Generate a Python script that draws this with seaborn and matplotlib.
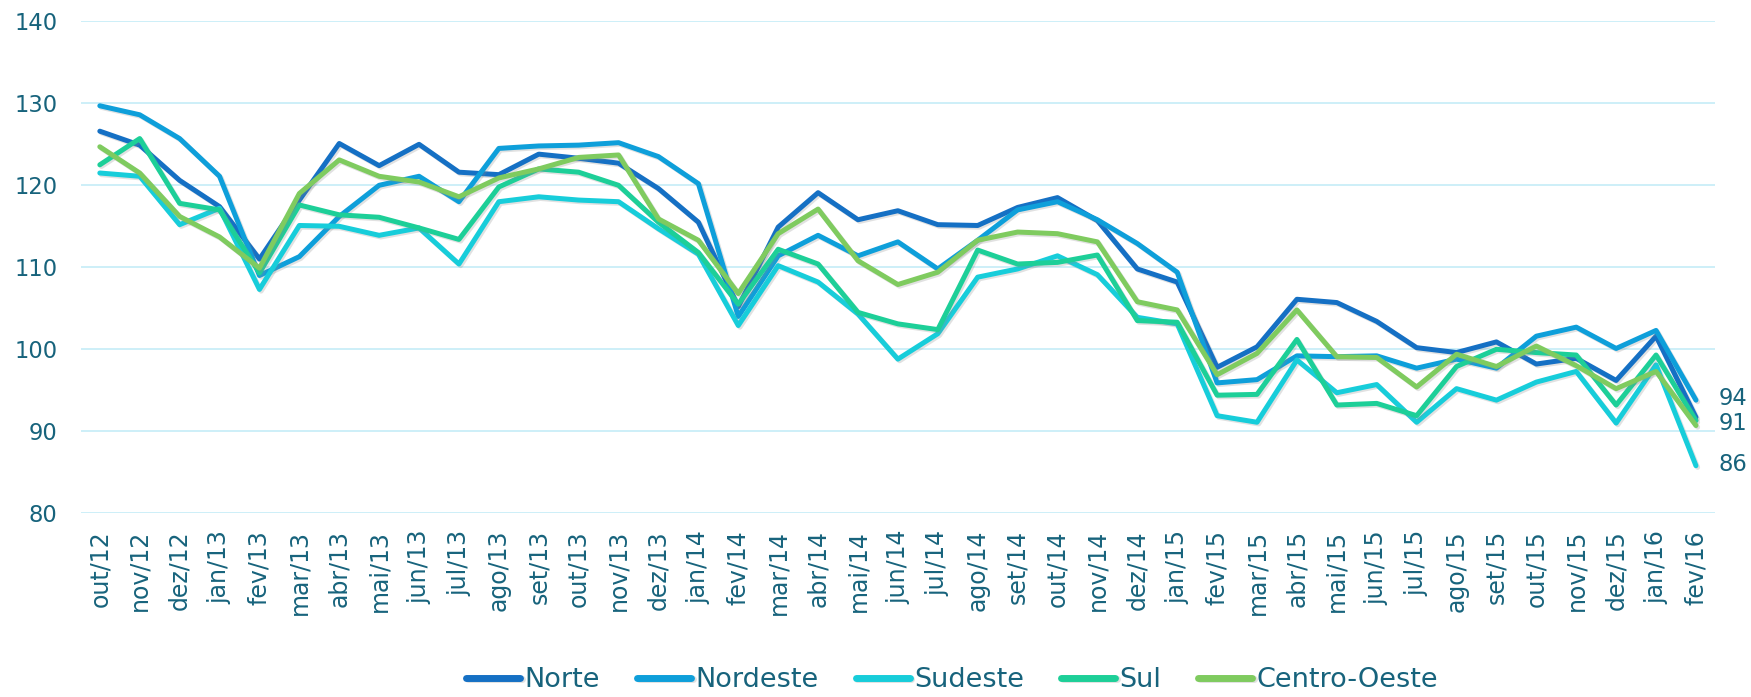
import pandas as pd
import numpy as np
import matplotlib
matplotlib.use("Agg")
import matplotlib.pyplot as plt
import matplotlib.patheffects as pe
import seaborn as sns

# meses (out/12 a fev/16)
meses = ["out/12", "nov/12", "dez/12", "jan/13", "fev/13", "mar/13", "abr/13", "mai/13", "jun/13",
         "jul/13", "ago/13", "set/13", "out/13", "nov/13", "dez/13", "jan/14", "fev/14", "mar/14",
         "abr/14", "mai/14", "jun/14", "jul/14", "ago/14", "set/14", "out/14", "nov/14", "dez/14",
         "jan/15", "fev/15", "mar/15", "abr/15", "mai/15", "jun/15", "jul/15", "ago/15", "set/15",
         "out/15", "nov/15", "dez/15", "jan/16", "fev/16"]

norte = [126.6, 124.9, 120.6, 117.4, 111.0, 118.2, 125.1, 122.4, 125.0, 121.6, 121.3, 123.8, 123.3,
         122.7, 119.6, 115.5, 105.2, 114.9, 119.1, 115.8, 116.9, 115.2, 115.1, 117.3, 118.5, 115.7,
         109.8, 108.2, 97.8, 100.3, 106.1, 105.7, 103.4, 100.2, 99.6, 100.9, 98.2, 98.9, 96.2, 101.6, 91.7]
nordeste = [129.7, 128.6, 125.7, 121.1, 109.0, 111.3, 116.2, 120.0, 121.1, 118.0, 124.5, 124.8, 124.9,
            125.2, 123.5, 120.2, 104.0, 111.4, 113.9, 111.4, 113.1, 109.8, 113.3, 117.0, 118.0, 115.8,
            112.9, 109.4, 95.9, 96.3, 99.2, 99.1, 99.2, 97.7, 98.8, 97.7, 101.6, 102.7, 100.1, 102.3, 93.8]
sudeste = [121.5, 121.1, 115.2, 117.2, 107.3, 115.1, 115.0, 113.9, 114.8, 110.4, 118.0, 118.6, 118.2,
           118.0, 114.7, 111.6, 102.9, 110.2, 108.2, 104.3, 98.8, 101.9, 108.8, 109.8, 111.4, 109.1,
           103.9, 103.1, 91.9, 91.1, 98.7, 94.7, 95.7, 91.1, 95.2, 93.8, 96.0, 97.3, 91.0, 98.1, 85.8]
sul = [122.5, 125.7, 117.8, 117.0, 109.3, 117.6, 116.4, 116.1, 114.8, 113.4, 119.8, 122.0, 121.6,
       120.0, 115.5, 111.8, 105.5, 112.2, 110.4, 104.5, 103.1, 102.4, 112.1, 110.4, 110.6, 111.5,
       103.5, 103.3, 94.4, 94.5, 101.2, 93.2, 93.4, 91.9, 97.9, 100.0, 99.6, 99.3, 93.2, 99.3, 91.3]
centro_oeste = [124.7, 121.5, 116.2, 113.7, 109.9, 119.0, 123.1, 121.1, 120.4, 118.6, 120.9, 122.0, 123.4,
                123.7, 115.9, 113.3, 106.8, 114.1, 117.1, 110.8, 107.9, 109.4, 113.3, 114.3, 114.1, 113.1,
                105.8, 104.8, 96.9, 99.5, 104.8, 99.1, 99.0, 95.4, 99.4, 97.9, 100.4, 98.0, 95.2, 97.3, 90.7]

regioes = ["Norte", "Nordeste", "Sudeste", "Sul", "Centro-Oeste"]
cores = ["#1570C4", "#0E9FDA", "#17CDDA", "#1DCF98", "#7FCB5F"]
rotulos_finais = [94, 91, 86]

texto = "#17637C"
grade = "#CDEFF8"

df = pd.DataFrame({"mes": meses, "Norte": norte, "Nordeste": nordeste, "Sudeste": sudeste,
                   "Sul": sul, "Centro-Oeste": centro_oeste})
df["pos"] = range(len(meses))
df_long = df.melt(id_vars=["mes", "pos"], value_vars=regioes, var_name="regiao", value_name="valor")

sns.set_style("white")
plt.rcParams["font.family"] = ["DejaVu Sans"]

fig = plt.figure(figsize=(17.51, 6.97), dpi=100)
ax = fig.add_axes([0.0463, 0.2636, 0.9332, 0.7058])

sombra = [pe.SimpleLineShadow(offset=(1.2, -1.2), shadow_color="#888888", alpha=0.25), pe.Normal()]
sns.lineplot(data=df_long, x="pos", y="valor", hue="regiao", hue_order=regioes,
             palette=cores, linewidth=3.6, sort=False, ax=ax, legend=True)
for linha in ax.get_lines():
    linha.set_path_effects(sombra)
    linha.set_solid_joinstyle("round")

ax.set_ylim(80, 140)
ax.set_yticks(range(80, 141, 10))
ax.set_xlim(-0.47, len(meses) - 1 + 0.48)
ax.set_xticks(df["pos"])
ax.set_xticklabels(meses, rotation=90)
ax.set_xlabel("")
ax.set_ylabel("")
ax.grid(axis="y", color=grade, linewidth=1.4)
ax.set_axisbelow(True)
for s in ax.spines.values():
    s.set_visible(False)
ax.tick_params(axis="x", length=0, pad=12, labelsize=17, labelcolor=texto)
ax.tick_params(axis="y", length=0, pad=17, labelsize=16.3, labelcolor=texto)

# valores no fim das séries
for v in rotulos_finais:
    ax.annotate(str(v), xy=(len(meses) - 1, v), xytext=(16, 0), textcoords="offset points",
                va="center", ha="left", fontsize=16.3, color=texto, annotation_clip=False)

handles, labels = ax.get_legend_handles_labels()
ax.get_legend().remove()
for h in handles:
    h.set_linewidth(5)
    h.set_solid_capstyle("round")
fig.legend(handles, labels, loc="center", bbox_to_anchor=(0.5437, 0.024), ncol=5, frameon=False,
           fontsize=19.5, handlelength=2.0, handletextpad=0.15, columnspacing=1.37, labelcolor=texto)

fig.savefig("out.png", dpi=100)
